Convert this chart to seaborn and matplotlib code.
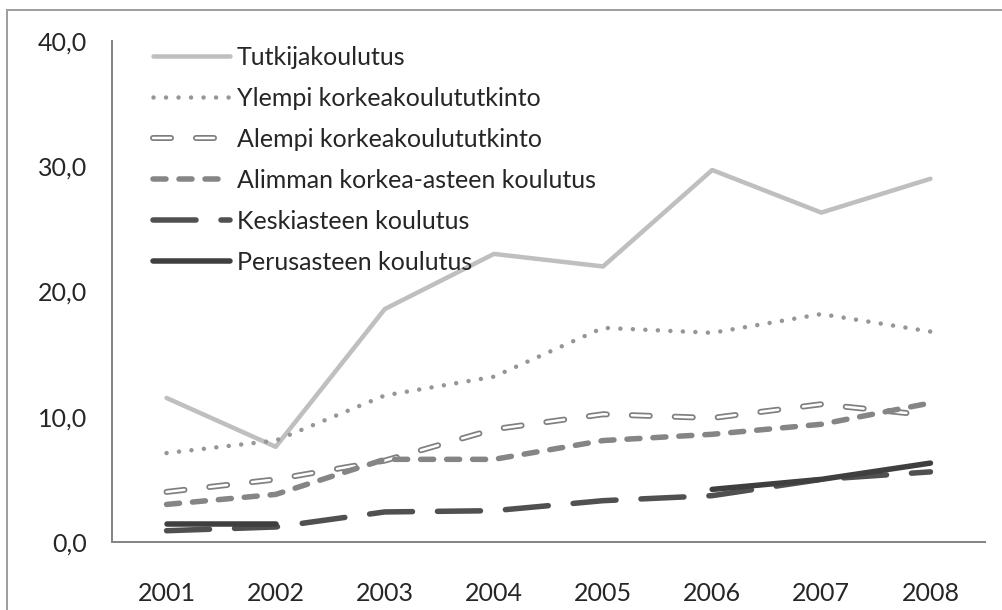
import numpy as np
import pandas as pd
import matplotlib
matplotlib.use("Agg")
import matplotlib.pyplot as plt
import matplotlib.patheffects as pe
from matplotlib.patches import Rectangle
from matplotlib.ticker import FuncFormatter
import seaborn as sns

years = [2001, 2002, 2003, 2004, 2005, 2006, 2007, 2008]
tutkija = [11.5, 7.6, 18.6, 23.0, 22.0, 29.7, 26.3, 29.0]
ylempi = [7.1, 8.1, 11.7, 13.2, 17.1, 16.7, 18.2, 16.8]
alempi = [4.0, 5.0, 6.5, 9.0, 10.2, 9.9, 11.0, 10.1]
alimman = [3.0, 3.8, 6.6, 6.6, 8.1, 8.6, 9.4, 11.1]
keski = [0.9, 1.2, 2.4, 2.5, 3.3, 3.7, 5.0, 5.6]
perus = [1.4, 1.4, np.nan, np.nan, np.nan, 4.2, 5.0, 6.3]

labels = ["Tutkijakoulutus", "Ylempi korkeakoulututkinto", "Alempi korkeakoulututkinto",
          "Alimman korkea-asteen koulutus", "Keskiasteen koulutus", "Perusasteen koulutus"]

sns.set_style("white")
plt.rcParams["font.family"] = ["Lato", "DejaVu Sans"]
plt.rcParams["lines.scale_dashes"] = False

fig = plt.figure(figsize=(10.03, 6.10), dpi=100)
W, H = 1003, 610
ax = fig.add_axes([112 / W, (H - 542) / H, (985 - 112) / W, (542 - 41) / H])

df = pd.DataFrame({"year": years, "tutkija": tutkija, "ylempi": ylempi, "alempi": alempi,
                   "alimman": alimman, "keski": keski, "perus": perus})

px = 0.72  # points per pixel
styles = {
    "tutkija": dict(color="#bfbfbf", lw=4.5 * px, solid_capstyle="round"),
    "ylempi": dict(color="#969696", lw=4.5 * px, linestyle=(0, (0.01, 12.5 * px)),
                   dash_capstyle="round"),
    "alempi": dict(color="white", lw=2.5 * px, linestyle=(0, (18 * px, 25 * px)),
                   dash_capstyle="round",
                   path_effects=[pe.Stroke(linewidth=6 * px, foreground="#7f7f7f"), pe.Normal()]),
    "alimman": dict(color="#858585", lw=5.5 * px, linestyle=(0, (13 * px, 13 * px)),
                    dash_capstyle="round"),
    "keski": dict(color="#505050", lw=5.5 * px, linestyle=(0, (43 * px, 25 * px)),
                  dash_capstyle="round"),
    "perus": dict(color="#3f3f3f", lw=5.5 * px, solid_capstyle="round"),
}


def draw(col, **kw):
    # split into runs without gaps so missing years stay empty
    s = df[["year", col]]
    ok = s[col].notna()
    runs = s[col].isna().cumsum()[ok]
    for _, part in s[ok].groupby(runs):
        sns.lineplot(data=part, x="year", y=col, ax=ax, **kw)


handles = []
for col in styles:
    draw(col, **styles[col])
    h, = ax.plot([], [], **styles[col])
    handles.append(h)

ax.legend(handles, labels, loc="upper left", bbox_to_anchor=(0.0355, 1.010), frameon=False,
          fontsize=18, handlelength=3.08, handletextpad=0.28, labelspacing=0.72,
          borderaxespad=0)

ax.set_xlim(2000.5, 2008.5)
ax.set_ylim(0, 40)
ax.set_xticks(years)
ax.set_yticks([0, 10, 20, 30, 40])
ax.yaxis.set_major_formatter(FuncFormatter(lambda v, p: f"{v:.1f}".replace(".", ",")))
ax.set_xlabel("")
ax.set_ylabel("")
ax.tick_params(axis="x", length=0, pad=29, labelsize=18)
ax.tick_params(axis="y", length=0, pad=18, labelsize=18)
for side in ["top", "right"]:
    ax.spines[side].set_visible(False)
for side in ["left", "bottom"]:
    ax.spines[side].set_color("#868686")
    ax.spines[side].set_linewidth(2 * px)

# outer chart border (only top and left edges fall inside the image)
fig.add_artist(Rectangle((7 / W, -0.1), 1.2, (H - 10) / H + 0.1, transform=fig.transFigure,
                         fill=False, edgecolor="#a0a0a0", lw=2 * px))

fig.savefig("out.png", dpi=100)
